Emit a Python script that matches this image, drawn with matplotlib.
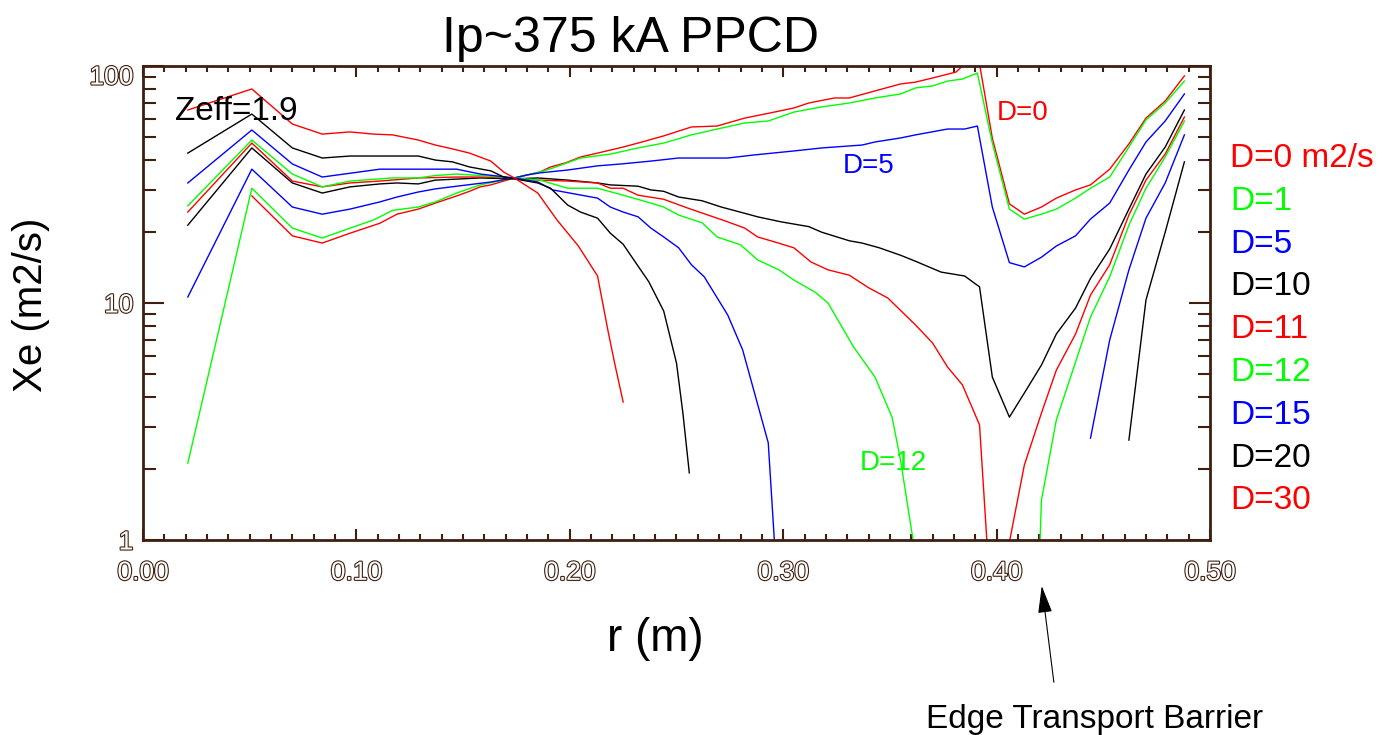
import matplotlib
matplotlib.use('Agg')
import matplotlib.pyplot as plt
import matplotlib.patheffects as pe
import matplotlib.transforms as mtransforms
from matplotlib.ticker import MultipleLocator, FixedLocator, NullFormatter

plt.rcParams['font.family'] = ['Liberation Sans', 'DejaVu Sans']

# radial profiles of Xe for each assumed diffusion coefficient D (m2/s)
r_d0 = [0.051, 0.070, 0.084, 0.097, 0.111, 0.119, 0.129, 0.137, 0.147, 0.153, 0.158, 0.163,
        0.174, 0.186, 0.191, 0.198, 0.205, 0.213, 0.225, 0.232, 0.244, 0.257, 0.269, 0.282,
        0.294, 0.305, 0.312, 0.324, 0.331, 0.343, 0.355, 0.362, 0.370, 0.381, 0.391, 0.398,
        0.406, 0.413, 0.421, 0.428, 0.437, 0.444, 0.453, 0.462, 0.470, 0.479, 0.488]
xe_d0 = [28.3, 19.2, 17.9, 19.7, 21.7, 23.7, 24.9, 26.4, 28.3, 29.6, 30.9, 31.5,
         33.7, 35.7, 37.5, 39.0, 41.3, 42.9, 45.5, 47.3, 50.7, 55.3, 55.8, 60.3,
         63.4, 66.5, 69.8, 73.3, 73.3, 78.5, 84.0, 85.5, 89.0, 94.3, 115.0, 49.6,
         26.2, 23.7, 25.4, 27.7, 30.0, 31.5, 36.7, 46.9, 60.3, 71.2, 90.8]

r_d1 = [0.021, 0.051, 0.070, 0.084, 0.097, 0.108, 0.117, 0.129, 0.137, 0.147, 0.158, 0.174,
        0.186, 0.192, 0.205, 0.219, 0.232, 0.244, 0.257, 0.269, 0.282, 0.293, 0.305, 0.318,
        0.331, 0.343, 0.355, 0.362, 0.370, 0.377, 0.384, 0.391, 0.398, 0.406, 0.413, 0.421,
        0.428, 0.437, 0.444, 0.453, 0.462, 0.470, 0.479, 0.488]
xe_d1 = [2.11, 30.5, 20.7, 18.8, 20.7, 22.4, 24.6, 25.4, 26.7, 29.1, 31.5, 33.7,
         35.7, 37.1, 40.9, 42.5, 45.1, 47.3, 51.2, 54.2, 57.5, 58.6, 63.9, 67.2,
         69.8, 73.3, 76.2, 80.8, 82.4, 86.4, 88.1, 93.4, 47.3, 24.9, 22.6, 23.7,
         24.9, 27.7, 30.5, 34.0, 45.5, 59.2, 69.8, 86.4]

r_d5 = [0.021, 0.051, 0.070, 0.084, 0.097, 0.111, 0.119, 0.129, 0.137, 0.147, 0.163, 0.174,
        0.180, 0.186, 0.199, 0.213, 0.224, 0.238, 0.251, 0.274, 0.286, 0.305, 0.318, 0.337,
        0.343, 0.355, 0.362, 0.377, 0.385, 0.391, 0.398, 0.406, 0.413, 0.421, 0.428, 0.437,
        0.444, 0.453, 0.462, 0.470, 0.479, 0.488]
xe_d5 = [10.6, 36.7, 25.4, 23.7, 24.9, 26.7, 28.0, 29.4, 30.3, 31.1, 32.4, 33.7,
         34.7, 35.4, 36.4, 37.9, 38.6, 39.7, 40.9, 40.9, 42.1, 43.8, 45.1, 46.4,
         47.8, 49.7, 51.2, 54.2, 54.2, 55.8, 25.4, 14.8, 14.2, 15.6, 17.4, 19.2,
         22.6, 26.4, 36.4, 47.8, 58.6, 76.2]

r_d10 = [0.021, 0.051, 0.070, 0.084, 0.097, 0.111, 0.119, 0.129, 0.137, 0.158, 0.174, 0.185,
         0.199, 0.213, 0.219, 0.232, 0.238, 0.244, 0.251, 0.262, 0.271, 0.282, 0.288, 0.299,
         0.312, 0.318, 0.331, 0.337, 0.345, 0.355, 0.362, 0.374, 0.385, 0.392, 0.398, 0.406,
         0.413, 0.421, 0.428, 0.437, 0.444, 0.453, 0.462, 0.470, 0.479, 0.488]
xe_d10 = [21.3, 45.1, 32.1, 29.1, 30.9, 31.8, 32.1, 31.8, 33.0, 33.7, 33.4, 33.7,
          33.0, 32.1, 31.5, 31.1, 30.0, 29.6, 28.0, 27.0, 25.4, 23.9, 23.1, 22.0,
          21.0, 19.9, 18.3, 17.9, 17.1, 15.9, 15.0, 13.5, 13.0, 11.7, 4.87, 3.30,
          4.17, 5.47, 7.40, 9.52, 12.7, 16.9, 24.9, 35.0, 45.5, 65.2]

r_d11 = [0.021, 0.051, 0.070, 0.084, 0.097, 0.111, 0.129, 0.147, 0.158, 0.174, 0.185, 0.199,
         0.213, 0.219, 0.225, 0.232, 0.244, 0.255, 0.263, 0.274, 0.282, 0.288, 0.296, 0.305,
         0.313, 0.321, 0.331, 0.340, 0.349, 0.362, 0.370, 0.377, 0.384, 0.392, 0.398, 0.406,
         0.413, 0.421, 0.428, 0.437, 0.444, 0.453, 0.462, 0.470, 0.479, 0.488]
xe_d11 = [24.2, 47.3, 32.7, 30.9, 32.1, 32.7, 33.7, 34.0, 34.0, 33.7, 33.0, 32.7,
          32.1, 30.5, 30.5, 28.5, 27.4, 25.2, 23.8, 22.0, 20.7, 19.0, 18.1, 17.1,
          14.9, 13.8, 13.1, 11.6, 10.5, 8.08, 6.78, 5.37, 4.51, 3.06, 0.43, 0.98,
          2.07, 3.43, 5.21, 7.40, 10.8, 14.5, 23.5, 33.0, 42.5, 60.9]

r_d12 = [0.021, 0.051, 0.070, 0.084, 0.097, 0.117, 0.129, 0.137, 0.147, 0.158, 0.174, 0.186,
         0.199, 0.213, 0.225, 0.238, 0.244, 0.251, 0.262, 0.269, 0.280, 0.288, 0.298, 0.305,
         0.315, 0.321, 0.333, 0.343, 0.351, 0.355, 0.361, 0.413, 0.421, 0.428, 0.437, 0.444,
         0.453, 0.462, 0.470, 0.479, 0.488]
xe_d12 = [25.7, 48.7, 35.0, 30.9, 32.7, 33.7, 33.7, 34.5, 35.0, 34.5, 33.7, 33.0,
          30.5, 30.5, 28.5, 26.4, 25.4, 23.5, 21.8, 19.0, 17.6, 15.2, 13.8, 12.5,
          11.1, 10.0, 6.52, 4.87, 3.30, 2.17, 0.98, 0.01, 1.47, 3.21, 5.64, 8.73,
          12.9, 21.3, 30.5, 41.3, 58.6]

r_d15 = [0.021, 0.051, 0.070, 0.084, 0.111, 0.147, 0.158, 0.174, 0.185, 0.192, 0.200, 0.213,
         0.219, 0.225, 0.232, 0.238, 0.244, 0.251, 0.257, 0.263, 0.274, 0.281, 0.293, 0.296,
         0.444, 0.453, 0.462, 0.470, 0.479, 0.488]
xe_d15 = [32.1, 53.7, 38.6, 34.0, 36.7, 36.7, 35.0, 33.7, 32.4, 30.0, 29.1, 27.7,
          25.4, 24.2, 23.1, 20.7, 19.0, 17.1, 14.5, 12.9, 8.9, 6.34, 2.57, 0.95,
          2.69, 6.98, 13.8, 22.8, 32.1, 51.2]

r_d20 = [0.021, 0.051, 0.070, 0.084, 0.097, 0.111, 0.129, 0.137, 0.145, 0.153, 0.163, 0.169,
         0.174, 0.185, 0.191, 0.199, 0.205, 0.213, 0.219, 0.225, 0.230, 0.237, 0.244, 0.250,
         0.253, 0.256]
xe_d20 = [42.9, 62.7, 45.1, 40.9, 41.7, 41.7, 41.7, 40.1, 39.4, 37.5, 36.1, 34.0,
          33.4, 32.1, 30.5, 25.9, 24.2, 22.8, 19.7, 17.7, 15.2, 12.3, 9.25, 5.58,
          3.43, 1.92]
r_d20_edge = [0.462, 0.470, 0.479, 0.488]
xe_d20_edge = [2.64, 10.3, 19.9, 39.4]

r_d30 = [0.021, 0.051, 0.070, 0.084, 0.097, 0.108, 0.117, 0.129, 0.137, 0.145, 0.153, 0.163,
         0.169, 0.174, 0.185, 0.194, 0.204, 0.213, 0.218, 0.221, 0.225]
xe_d30 = [65.2, 80.0, 56.9, 51.6, 52.7, 51.6, 51.2, 48.7, 46.4, 44.7, 42.9, 39.7,
          35.7, 33.7, 29.1, 22.4, 17.4, 13.0, 7.55, 5.58, 3.82]

# the D=15 profile has no points between its two visible pieces
gap = 24

red, green, blue, black = '#ff0000', '#00ff00', '#0000ff', '#000000'
axis_col = '#3f1f10'

fig = plt.figure(figsize=(13.89, 7.35), dpi=100)
ax = fig.add_axes([0.10295, 0.26531, 0.76818, 0.64490])

lw = 1.0
ax.plot(r_d0, xe_d0, color=red, lw=lw)
ax.plot(r_d1, xe_d1, color=green, lw=lw)
ax.plot(r_d5, xe_d5, color=blue, lw=lw)
ax.plot(r_d10, xe_d10, color=black, lw=lw)
ax.plot(r_d11, xe_d11, color=red, lw=lw)
ax.plot(r_d12, xe_d12, color=green, lw=lw)
ax.plot(r_d15[:gap], xe_d15[:gap], color=blue, lw=lw)
ax.plot(r_d15[gap:], xe_d15[gap:], color=blue, lw=lw)
ax.plot(r_d20, xe_d20, color=black, lw=lw)
ax.plot(r_d20_edge, xe_d20_edge, color=black, lw=lw)
ax.plot(r_d30, xe_d30, color=red, lw=lw)

ax.set_yscale('log')
ax.set_xlim(0.0, 0.5)
ax.set_ylim(1, 100)

for sp in ax.spines.values():
    sp.set_color(axis_col)
    sp.set_linewidth(2.0)

ax.xaxis.set_major_locator(MultipleLocator(0.1))
ax.xaxis.set_minor_locator(MultipleLocator(0.01))
ax.yaxis.set_major_locator(FixedLocator([1, 10, 100]))
ax.yaxis.set_minor_locator(FixedLocator([2, 3, 4, 5, 6, 7, 8, 9, 20, 30, 40, 50, 60, 70, 80, 90]))
ax.yaxis.set_minor_formatter(NullFormatter())
ax.set_xticks([0.0, 0.1, 0.2, 0.3, 0.4, 0.5], ['0.00', '0.10', '0.20', '0.30', '0.40', '0.50'])
ax.set_yticks([1, 10, 100], ['1', '10', '100'])

ax.tick_params(which='both', direction='in', top=True, right=True, color=axis_col,
               width=1.5, labelcolor='white', labelsize=19)
ax.tick_params(axis='x', which='major', length=8, pad=15)
ax.tick_params(axis='x', which='minor', length=4)
ax.tick_params(axis='y', which='major', length=15, pad=7)
ax.tick_params(axis='y', which='minor', length=9)

# hollow tick digits
outline = [pe.Stroke(linewidth=1.6, foreground=axis_col), pe.Normal()]
for lab in ax.get_xticklabels() + ax.get_yticklabels():
    lab.set_path_effects(outline)

# the top label sits a little below its tick
top_lab = ax.yaxis.get_major_ticks()[2].label1
top_lab.set_transform(top_lab.get_transform() +
                      mtransforms.ScaledTranslation(0, -0.09, fig.dpi_scale_trans))

fig.text(0.454, 0.929, 'Ip~375 kA PPCD', fontsize=36, ha='center', va='baseline')
fig.text(0.472, 0.114, 'r (m)', fontsize=33, ha='center', va='baseline')
fig.text(0.022, 0.585, 'Xe (m2/s)', fontsize=29, rotation=90, ha='center', va='center')

# curve labels inside the frame
ax.text(0.015, 59.2, 'Zeff=1.9', fontsize=24, color=black, va='baseline')
ax.text(0.400, 59.2, 'D=0', fontsize=20, color=red, va='baseline')
ax.text(0.328, 35.4, 'D=5', fontsize=20, color=blue, va='baseline')
ax.text(0.336, 1.97, 'D=12', fontsize=20, color=green, va='baseline')

# key on the right
key_text = ['D=0 m2/s', 'D=1', 'D=5', 'D=10', 'D=11', 'D=12', 'D=15', 'D=20', 'D=30']
key_cols = [red, green, blue, black, red, green, blue, black, red]
for i, (t, c) in enumerate(zip(key_text, key_cols)):
    fig.text(0.8855, 1 - (167 + 42.8 * i) / 735, t, fontsize=24, color=c, va='baseline')

ax.annotate('', xy=(0.421, -0.091), xycoords=('data', 'axes fraction'),
            xytext=(0.427, -0.306), textcoords=('data', 'axes fraction'),
            arrowprops=dict(arrowstyle='-|>,head_length=0.85,head_width=0.22',
                            mutation_scale=20, color='black', lw=0.8),
            annotation_clip=False)
fig.text(0.788, 0.0095, 'Edge Transport Barrier', fontsize=24, ha='center', va='baseline')

fig.savefig('out.png', dpi=100)
